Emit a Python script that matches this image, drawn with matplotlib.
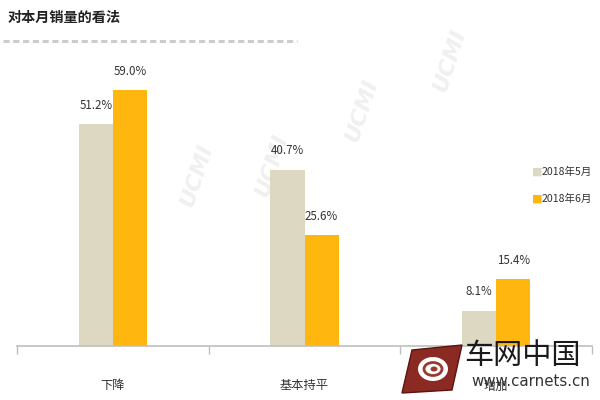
import matplotlib
matplotlib.use("Agg")
import matplotlib.pyplot as plt
import numpy as np
from matplotlib.lines import Line2D
from matplotlib.patches import Ellipse, Polygon

plt.rcParams['font.family'] = ['Noto Sans CJK SC', 'DejaVu Sans']

# data
categories = ["下降", "基本持平", "增加"]
may_2018 = [51.2, 40.7, 8.1]
jun_2018 = [59.0, 25.6, 15.4]
series_names = ["2018年5月", "2018年6月"]
title = "对本月销量的看法"

c_may = "#dcd8c2"
c_jun = "#ffb70f"

fig = plt.figure(figsize=(6, 4), dpi=100)

# faint watermark behind everything
for (wx, wy) in [(125, 230), (197, 175), (272, 165), (362, 110), (450, 60)]:
    fig.text(wx / 600, 1 - wy / 400, "UCMI", fontsize=16, fontstyle="italic",
             fontweight="bold", color="#f0f0f0", rotation=72, ha="center", va="center",
             family="DejaVu Sans", zorder=-5)

ax = fig.add_axes([17 / 600, 1 - 346 / 400, 575 / 600, 286 / 400])
ax.patch.set_alpha(0)

x = np.arange(len(categories))
w = 0.178
ax.bar(x - w / 2, may_2018, w, color=c_may, zorder=2)
ax.bar(x + w / 2, jun_2018, w, color=c_jun, zorder=2)

for xi, v in zip(x - w / 2, may_2018):
    ax.annotate(f"{v:.1f}%", (xi, v), xytext=(0, 9), textcoords="offset points",
                ha="center", va="bottom", fontsize=8.3, color="#333333")
for xi, v in zip(x + w / 2, jun_2018):
    ax.annotate(f"{v:.1f}%", (xi, v), xytext=(0, 9), textcoords="offset points",
                ha="center", va="bottom", fontsize=8.3, color="#333333")

ax.set_xlim(-0.5, 2.5)
ax.set_ylim(0, 66)
for s in ["top", "right", "left"]:
    ax.spines[s].set_visible(False)
ax.spines["bottom"].set_color("#bfbfbf")
ax.spines["bottom"].set_linewidth(1.2)
ax.set_yticks([])
ax.set_xticks([-0.5, 0.5, 1.5, 2.5], minor=False)
ax.set_xticklabels([])
ax.tick_params(axis="x", length=6, color="#bfbfbf", width=1)
ax.set_xticks(x, minor=True)
ax.set_xticklabels(categories, minor=True, fontsize=8.8, color="#333333")
ax.tick_params(axis="x", which="minor", length=0, pad=24)

# title and dashed line
fig.text(8 / 600, 1 - 18 / 400, title, fontsize=10.2, fontweight="bold",
         color="#222222", va="center", ha="left")
fig.add_artist(Line2D([3 / 600, 297 / 600], [1 - 41 / 400, 1 - 41 / 400],
                      color="#cccccc", lw=2.2, ls=(0, (2, 1.2))))

# legend
for i, (name, col) in enumerate(zip(series_names, [c_may, c_jun])):
    yy = 1 - (172 + i * 27) / 400
    fig.text(537 / 600, yy, "■", color=col, fontsize=8, ha="center", va="center",
             family="DejaVu Sans")
    fig.text(542 / 600, yy, name, fontsize=7.6, color="#333333", ha="left", va="center")

# site logo
lax = fig.add_axes([0, 0, 1, 1], zorder=5)
lax.set_xlim(0, 600)
lax.set_ylim(400, 0)
lax.axis("off")
lax.add_patch(Polygon([[412, 350], [462, 345], [452, 390], [402, 393]], closed=True,
                      facecolor="#8a2a22", edgecolor="#5a1510", lw=1))
lax.add_patch(Ellipse((433, 369), 30, 24, facecolor="white", edgecolor="none"))
lax.add_patch(Ellipse((433, 369), 18, 13, facecolor="none", edgecolor="#9a3a30", lw=2))
lax.add_patch(Ellipse((434, 369), 7, 5, facecolor="#9a3a30", edgecolor="none"))
lax.text(464, 356, "车网中国", fontsize=21, color="#1a1a1a", ha="left", va="center")
lax.text(590, 382, "www.carnets.cn", fontsize=10.8, color="#333333",
         ha="right", va="center", family="DejaVu Sans")

fig.savefig("out.png", dpi=100)
